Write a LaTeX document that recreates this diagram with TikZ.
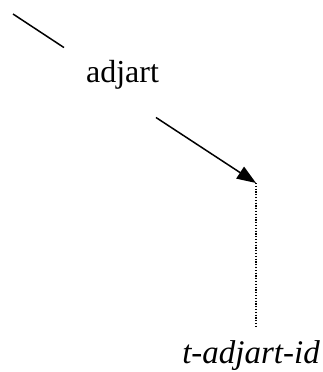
\documentclass[tikz,border=0pt]{standalone}
\usepackage{fontspec}
\setmainfont{Liberation Serif}
\usetikzlibrary{arrows.meta}
\tikzset{
  every picture/.style={line width=1.5pt},
  word/.style={font=\fontsize{32}{38}\selectfont, inner xsep=13pt, inner ysep=6pt},
  term/.style={word, font=\fontsize{33}{39}\selectfont\itshape},
  link/.style={draw=black},
  arrow/.style={link, -{Triangle[length=19pt, width=14pt]}},
  trace/.style={draw=black, line width=1.3pt, dash pattern=on 1.2pt off 1.6pt},
}

\begin{document}
\begin{tikzpicture}[x=1pt, y=-1pt]
  \useasboundingbox (0,0) rectangle (323,372);
  % word and its trace
  \coordinate (root) at (13,14);
  \node[word, anchor=base] (adj) at (122.5,82) {adjart};
  \coordinate (land) at (256,183);
  \node[term, anchor=base] (tid) at (251,363) {t-adjart-id};
  \draw[link, shorten >=10pt] (root) -- (adj.north west);
  \draw[arrow, shorten <=40pt] (adj.south) -- (land);
  \draw[trace, shorten >=7.5pt] (land) -- (land |- tid.north);
\end{tikzpicture}
\end{document}
